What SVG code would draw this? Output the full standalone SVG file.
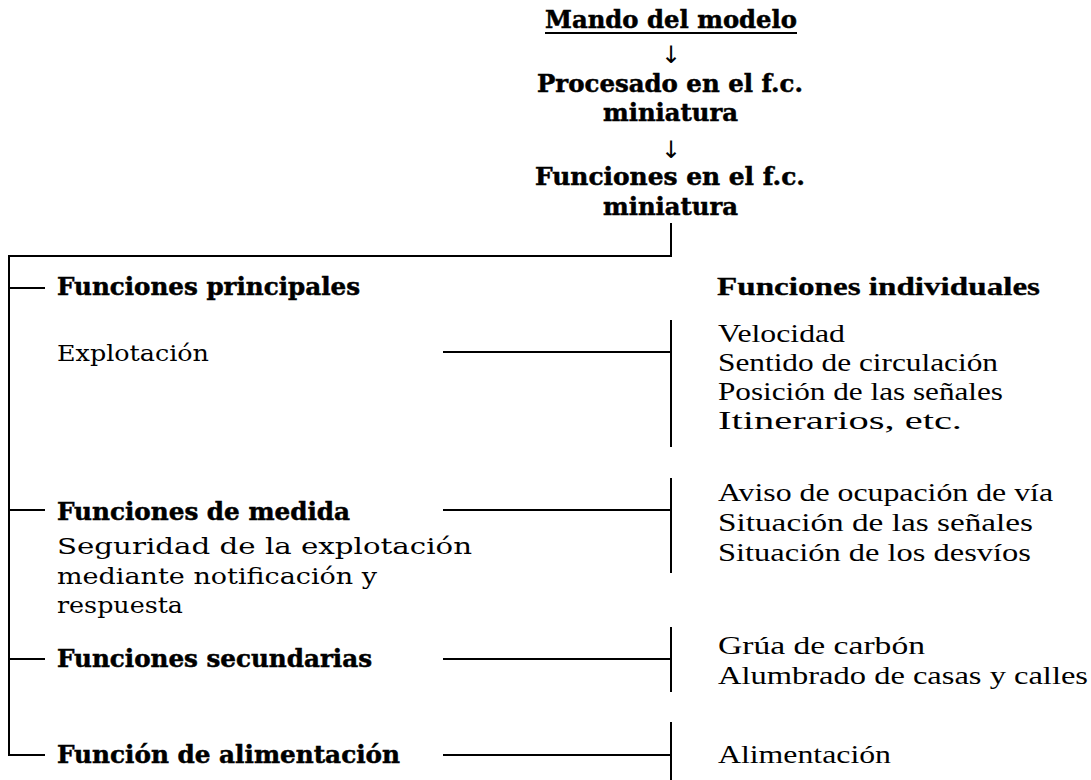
<svg xmlns="http://www.w3.org/2000/svg" width="1091" height="780" viewBox="0 0 1091 780">
<style>
.hb{font-family:"DejaVu Serif","Liberation Serif",serif;font-weight:bold;font-size:24px;fill:#000;stroke:#000;stroke-width:0.5}
.hr{font-family:"DejaVu Serif","Liberation Serif",serif;font-size:23px;fill:#000}
.rb{font-family:"Liberation Serif","Times New Roman",serif;font-weight:bold;font-size:25px;fill:#000;stroke:#000;stroke-width:0.3}
.rr{font-family:"Liberation Serif","Times New Roman",serif;font-size:25px;fill:#000}
.ar{font-family:"DejaVu Sans",sans-serif;font-size:24px;fill:#000}
.ln{stroke:#000;stroke-width:2;fill:none}
</style>
<rect width="1091" height="780" fill="#fff"/>
<g id="connectors">
<line class="ln" x1="545" y1="33" x2="797" y2="33"/>
<path class="ln" d="M671,223 V256 H9 V755 H45"/>
<line class="ln" x1="9" y1="288" x2="45" y2="288"/>
<line class="ln" x1="9" y1="510" x2="45" y2="510"/>
<line class="ln" x1="9" y1="659" x2="45" y2="659"/>
<line class="ln" x1="443" y1="352" x2="671" y2="352"/>
<line class="ln" x1="671" y1="320" x2="671" y2="447"/>
<line class="ln" x1="443" y1="510" x2="671" y2="510"/>
<line class="ln" x1="671" y1="478" x2="671" y2="573"/>
<line class="ln" x1="443" y1="659" x2="671" y2="659"/>
<line class="ln" x1="671" y1="627" x2="671" y2="692"/>
<line class="ln" x1="443" y1="755" x2="671" y2="755"/>
<line class="ln" x1="671" y1="722" x2="671" y2="780"/>
</g>
<g id="mando">
<text class="hb" x="545" y="28" textLength="252" lengthAdjust="spacingAndGlyphs">Mando del modelo</text>
</g>
<g id="arrow1"><text class="ar" x="671" y="63" text-anchor="middle">↓</text></g>
<g id="procesado">
<text class="hb" x="537" y="92" textLength="266" lengthAdjust="spacingAndGlyphs">Procesado en el f.c.</text>
<text class="hb" x="603" y="121" textLength="135" lengthAdjust="spacingAndGlyphs">miniatura</text>
</g>
<g id="arrow2"><text class="ar" x="671" y="158" text-anchor="middle">↓</text></g>
<g id="funciones">
<text class="hb" x="535" y="185" textLength="270" lengthAdjust="spacingAndGlyphs">Funciones en el f.c.</text>
<text class="hb" x="603" y="215" textLength="135" lengthAdjust="spacingAndGlyphs">miniatura</text>
</g>
<g id="principales">
<text class="hb" x="57" y="295" textLength="303" lengthAdjust="spacingAndGlyphs">Funciones principales</text>
<text class="hr" x="57" y="361" textLength="152" lengthAdjust="spacingAndGlyphs">Explotación</text>
</g>
<g id="individuales">
<text class="rb" x="717" y="295" textLength="323" lengthAdjust="spacingAndGlyphs">Funciones individuales</text>
</g>
<g id="explotacion-items">
<text class="rr" x="718" y="342" textLength="127" lengthAdjust="spacingAndGlyphs">Velocidad</text>
<text class="rr" x="718" y="371" textLength="280" lengthAdjust="spacingAndGlyphs">Sentido de circulación</text>
<text class="rr" x="718" y="400" textLength="285" lengthAdjust="spacingAndGlyphs">Posición de las señales</text>
<text class="rr" x="718" y="429" textLength="244" lengthAdjust="spacingAndGlyphs">Itinerarios, etc.</text>
</g>
<g id="medida">
<text class="hb" x="57" y="520" textLength="293" lengthAdjust="spacingAndGlyphs">Funciones de medida</text>
<text class="hr" x="57" y="554" textLength="415" lengthAdjust="spacingAndGlyphs">Seguridad de la explotación</text>
<text class="hr" x="57" y="584" textLength="320" lengthAdjust="spacingAndGlyphs">mediante notificación y</text>
<text class="hr" x="57" y="613" textLength="126" lengthAdjust="spacingAndGlyphs">respuesta</text>
</g>
<g id="medida-items">
<text class="rr" x="718" y="501" textLength="335" lengthAdjust="spacingAndGlyphs">Aviso de ocupación de vía</text>
<text class="rr" x="718" y="531" textLength="315" lengthAdjust="spacingAndGlyphs">Situación de las señales</text>
<text class="rr" x="718" y="561" textLength="313" lengthAdjust="spacingAndGlyphs">Situación de los desvíos</text>
</g>
<g id="secundarias">
<text class="hb" x="57" y="667" textLength="315" lengthAdjust="spacingAndGlyphs">Funciones secundarias</text>
</g>
<g id="secundarias-items">
<text class="rr" x="718" y="654" textLength="207" lengthAdjust="spacingAndGlyphs">Grúa de carbón</text>
<text class="rr" x="718" y="684" textLength="370" lengthAdjust="spacingAndGlyphs">Alumbrado de casas y calles</text>
</g>
<g id="alimentacion">
<text class="hb" x="57" y="763" textLength="343" lengthAdjust="spacingAndGlyphs">Función de alimentación</text>
</g>
<g id="alimentacion-items">
<text class="rr" x="718" y="763" textLength="173" lengthAdjust="spacingAndGlyphs">Alimentación</text>
</g>
</svg>
